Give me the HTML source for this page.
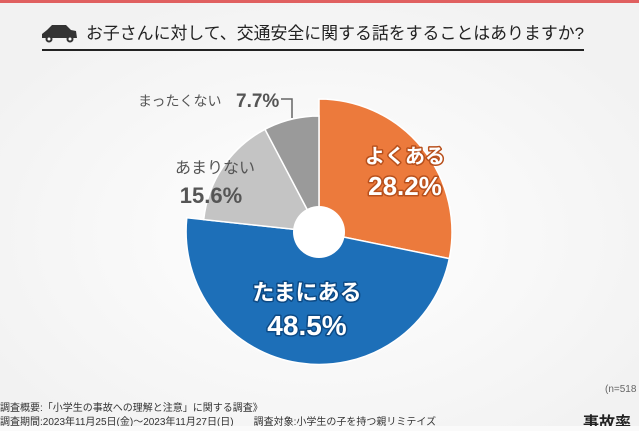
<!DOCTYPE html>
<html><head><meta charset="utf-8"><style>
body{margin:0;width:639px;height:426px;overflow:hidden;background:#fafafa;font-family:"Liberation Sans","Noto Sans CJK JP",sans-serif;}
</style></head><body>
<svg width="639" height="426" viewBox="0 0 639 426" xmlns="http://www.w3.org/2000/svg" font-family="Liberation Sans, Noto Sans CJK JP, sans-serif">
<defs><radialGradient id="bg" cx="0.5" cy="0.55" r="0.6"><stop offset="0" stop-color="#fff"/><stop offset="1" stop-color="#f2f2f2"/></radialGradient></defs>
<rect width="639" height="426" fill="url(#bg)"/>
<rect width="639" height="3" fill="#e06060"/>
<g fill="#333">
<path d="M42 34 L47 30 L52 25 L66 25 L71 30 L76 31 L77 38 L42 38 Z"/>
<circle cx="49" cy="39" r="3.5"/><circle cx="70" cy="39" r="3.5"/>
</g>
<circle cx="49" cy="39" r="1.5" fill="#fff"/><circle cx="70" cy="39" r="1.5" fill="#fff"/>
<text x="86" y="39" font-size="17" fill="#222" textLength="498" lengthAdjust="spacingAndGlyphs">お子さんに対して、交通安全に関する話をすることはありますか?</text>
<rect x="42" y="49" width="542" height="2" fill="#222"/>
<g stroke="#fff" stroke-width="1.5">
<path d="M319 232 L319 99 A133 133 0 0 1 449.3 258.6 Z" fill="#ec7a3c"/>
<path d="M319 232 L449.3 258.6 A133 133 0 0 1 186.8 217.8 Z" fill="#1d6fb8"/>
<path d="M319 232 L203.7 219.6 A116 116 0 0 1 265 129.3 Z" fill="#c4c4c4"/>
<path d="M319 232 L265 129.3 A116 116 0 0 1 319 116 Z" fill="#9a9a9a"/>
</g>
<circle cx="319" cy="232" r="26" fill="#fff"/>
<g font-weight="bold" stroke-linejoin="round" text-anchor="middle">
<text x="405" y="163" font-size="20" fill="#fff" stroke="#b8501c" stroke-width="3" paint-order="stroke">よくある</text>
<text x="405" y="195" font-size="26" fill="#fff" stroke="#b8501c" stroke-width="3" paint-order="stroke">28.2%</text>
<text x="307" y="300" font-size="22" fill="#fff" stroke="#0d4a85" stroke-width="3" paint-order="stroke">たまにある</text>
<text x="307" y="335" font-size="28" fill="#fff" stroke="#0d4a85" stroke-width="3" paint-order="stroke">48.5%</text>
</g>
<text x="215" y="173" font-size="16" fill="#555" text-anchor="middle">あまりない</text>
<text x="211" y="203" font-size="22" font-weight="bold" fill="#555" text-anchor="middle">15.6%</text>
<text x="138" y="106" font-size="14" fill="#555">まったくない</text>
<text x="236" y="107" font-size="19" font-weight="bold" fill="#555">7.7%</text>
<path d="M281 99 H292 V118" stroke="#666" stroke-width="1.5" fill="none"/>
<text x="605" y="392" font-size="10" fill="#666">(n=518</text>
<text x="0" y="411" font-size="10" fill="#333">調査概要:「小学生の事故への理解と注意」に関する調査》</text>
<text x="0" y="425" font-size="10" fill="#333">調査期間:2023年11月25日(金)〜2023年11月27日(日)　　調査対象:小学生の子を持つ親リミテイズ</text>
<text x="583" y="428" font-size="16" font-weight="bold" fill="#222">事故率</text>
</svg>
</body></html>
